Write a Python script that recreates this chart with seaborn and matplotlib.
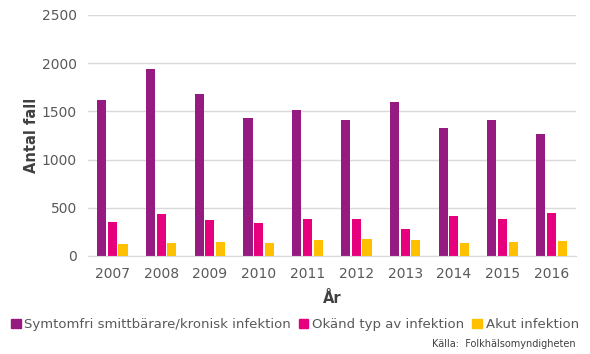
import pandas as pd
import matplotlib.pyplot as plt
import seaborn as sns

# Data
years = ["2007", "2008", "2009", "2010", "2011", "2012", "2013", "2014", "2015", "2016"]
kronisk = [1618, 1940, 1675, 1431, 1511, 1411, 1594, 1331, 1411, 1269]
okand = [353, 432, 370, 342, 380, 380, 280, 411, 380, 443]
akut = [125, 138, 148, 138, 169, 176, 169, 138, 148, 159]

series = ["Symtomfri smittbärare/kronisk infektion", "Okänd typ av infektion", "Akut infektion"]
colors = ["#951B81", "#E6007E", "#FFC000"]

df = pd.DataFrame({"År": years, series[0]: kronisk, series[1]: okand, series[2]: akut})
long = df.melt(id_vars="År", var_name="Typ", value_name="Antal fall")

sns.set_style("white")
plt.rcParams["font.family"] = ["DejaVu Sans"]

fig = plt.figure(figsize=(5.9, 3.54), dpi=100)
ax = fig.add_axes([0.149, 0.277, 0.827, 0.681])

sns.barplot(data=long, x="År", y="Antal fall", hue="Typ", palette=colors,
            width=0.66, gap=0.15, linewidth=0, ax=ax, legend=False, saturation=1)

ax.set_ylim(0, 2500)
ax.set_yticks(range(0, 2501, 500))
ax.yaxis.grid(True, color="#D9D9D9", linewidth=1)
ax.set_axisbelow(True)
for s in ["top", "right", "left"]:
    ax.spines[s].set_visible(False)
ax.spines["bottom"].set_color("#D9D9D9")
ax.tick_params(axis="both", length=0, labelsize=10, labelcolor="#595959", pad=8)

ax.set_xlabel("År", fontsize=10.5, fontweight="bold", color="#404040", labelpad=7)
ax.set_ylabel("Antal fall", fontsize=10.5, fontweight="bold", color="#404040", labelpad=2)

handles = [plt.Rectangle((0, 0), 1, 1, color=c) for c in colors]
fig.legend(handles, series, loc="center", bbox_to_anchor=(0.5, 0.082), ncol=3,
           frameon=False, fontsize=9.5, labelcolor="#595959",
           handlelength=0.7, handleheight=0.7, handletextpad=0.3, columnspacing=0.6)

fig.text(0.975, 0.028, "Källa:  Folkhälsomyndigheten", ha="right", va="center",
         fontsize=7, color="#404040")

fig.savefig("out.png", dpi=100)
